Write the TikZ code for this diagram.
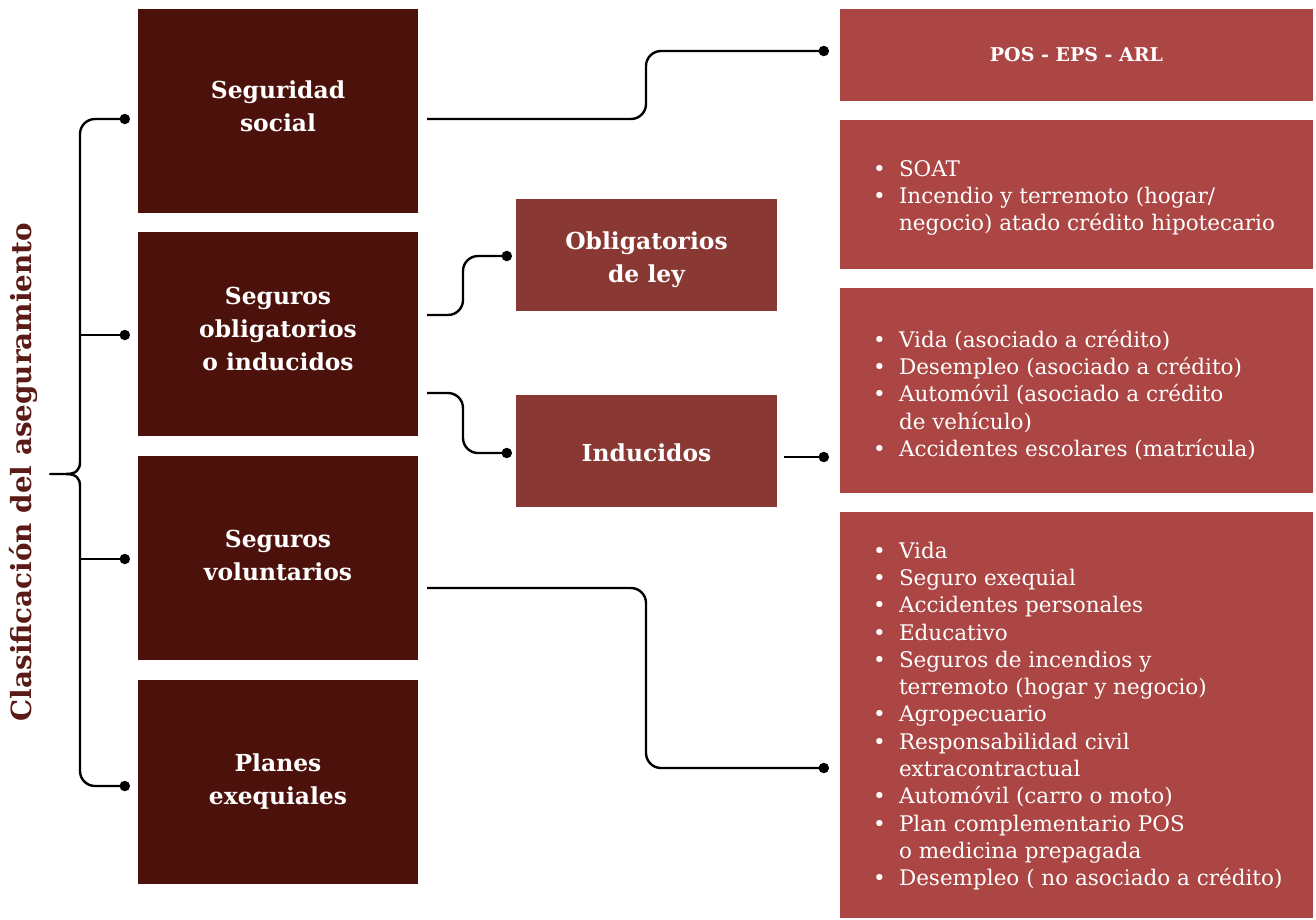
\documentclass[tikz,border=0pt]{standalone}
\usepackage{fontspec}
\setmainfont{DejaVu Serif}
\usetikzlibrary{calc}
\definecolor{lboxc}{RGB}{75,17,10}
\definecolor{mboxc}{RGB}{137,56,51}
\definecolor{rboxc}{RGB}{171,70,68}
\definecolor{labc}{RGB}{90,26,22}
\newcommand{\blt}{\makebox[26pt][l]{\textbullet}}
\newcommand{\cnt}{\hspace*{26pt}}
\newcommand{\ttl}[2][0pt]{\raisebox{#1}[\height][\depth]{\begin{tabular}{@{}c@{}}#2\end{tabular}}}
\begin{document}
\begin{tikzpicture}[x=1pt,y=-1pt,
 lbox/.style={rectangle, fill=lboxc, minimum width=280pt, minimum height=204pt, inner sep=0pt, text=white, font=\bfseries\fontsize{23.4}{32.6}\selectfont},
 mbox/.style={rectangle, fill=mboxc, minimum width=261pt, minimum height=112pt, inner sep=0pt, text=white, font=\bfseries\fontsize{23.4}{32.6}\selectfont},
 rbox/.style={rectangle, fill=rboxc, minimum width=473pt, inner sep=0pt},
 ltext/.style={anchor=west, text=white, font=\fontsize{21.5}{27.3}\selectfont, align=left, inner sep=0pt},
 conn/.style={line width=2.4pt, black, rounded corners=15pt},
 dot/.style={circle, fill=black, inner sep=0pt, minimum size=10.5pt},
]
\useasboundingbox (0,0) rectangle (1316,919);

% left label
\node[rotate=90, text=labc, font=\bfseries\fontsize{27.8}{30}\selectfont, inner sep=0pt] (lab) at (23,472) {Clasificación del aseguramiento};

% left boxes
\node[lbox] (b1) at (278,111) {\ttl[2.5pt]{Seguridad\\social}};
\node[lbox] (b2) at (278,334) {\ttl[3pt]{Seguros\\obligatorios\\o inducidos}};
\node[lbox] (b3) at (278,558) {\ttl[0.5pt]{Seguros\\voluntarios}};
\node[lbox] (b4) at (278,782) {\ttl[0.5pt]{Planes\\exequiales}};

% middle boxes
\node[mbox] (m1) at (646.5,255) {\ttl[-4.5pt]{Obligatorios\\de ley}};
\node[mbox] (m2) at (646.5,451) {\ttl[-4pt]{Inducidos}};

% right boxes
\node[rbox, minimum height=92pt, text=white, font=\bfseries\fontsize{19}{24}\selectfont] (r1) at (1076.5,55) {POS - EPS - ARL};
\node[rbox, minimum height=149pt] (r2) at (1076.5,194.5) {};
\node[rbox, minimum height=205pt] (r3) at (1076.5,390.5) {};
\node[rbox, minimum height=406pt] (r4) at (1076.5,715) {};

\node[ltext] (r2t) at ($(r2.west)+(33,3.5)$) {\blt SOAT\\ \blt Incendio y terremoto (hogar/\\ \cnt negocio) atado crédito hipotecario};
\node[ltext] (r3t) at ($(r3.west)+(33,4.5)$) {\blt Vida (asociado a crédito)\\ \blt Desempleo (asociado a crédito)\\ \blt Automóvil (asociado a crédito\\ \cnt de vehículo)\\ \blt Accidentes escolares (matrícula)};
\node[ltext] (r4t) at ($(r4.west)+(33,1)$) {\blt Vida\\ \blt Seguro exequial\\ \blt Accidentes personales\\ \blt Educativo\\ \blt Seguros de incendios y\\ \cnt terremoto (hogar y negocio)\\ \blt Agropecuario\\ \blt Responsabilidad civil\\ \cnt extracontractual\\ \blt Automóvil (carro o moto)\\ \blt Plan complementario POS\\ \cnt o medicina prepagada\\ \blt Desempleo ( no asociado a crédito)};

% brace coordinates
\coordinate (k1) at ($(b1.west)+(-13,8)$);
\coordinate (k2) at ($(b2.west)+(-13,1)$);
\coordinate (k3) at ($(b3.west)+(-13,1)$);
\coordinate (k4) at ($(b4.west)+(-13,4)$);
\coordinate (bx) at (80,474);
\coordinate (tip) at (50,474);

\draw[conn, line cap=round] (k1) -| ($(bx)+(0,-12)$);
\draw[conn, line cap=round] ($(bx)+(0,12)$) |- (k4);
\draw[line width=2.4pt, line cap=round] (tip) -- ($(bx)+(-14,0)$) .. controls ($(bx)+(-4,0)$) and ($(bx)+(0,-4)$) .. ($(bx)+(0,-12)$);
\draw[line width=2.4pt, line cap=round] ($(bx)+(-14,0)$) .. controls ($(bx)+(-4,0)$) and ($(bx)+(0,4)$) .. ($(bx)+(0,12)$);
\draw[line width=2.4pt] (k2 -| bx) -- (k2);
\draw[line width=2.4pt] (k3 -| bx) -- (k3);
\node[dot] (dk1) at (k1) {};
\node[dot] (dk2) at (k2) {};
\node[dot] (dk3) at (k3) {};
\node[dot] (dk4) at (k4) {};

% connectors
\coordinate (s1) at ($(b1.east)+(9,8)$);
\coordinate (e1) at ($(r1.west)+(-16,-4)$);
\draw[conn] (s1) -| ($(s1)!0.5!(e1) + (20.5,0)$) |- (e1);
\node[dot] (de1) at (e1) {};

\coordinate (s2) at ($(b2.east)+(9,-19)$);
\coordinate (e2) at ($(m1.west)+(-9,1)$);
\draw[conn] (s2) -| ($(s2)!0.5!(e2) + (-4,0)$) |- (e2);
\node[dot] (de2) at (e2) {};

\coordinate (s3) at ($(b2.east)+(9,59)$);
\coordinate (e3) at ($(m2.west)+(-9,2)$);
\draw[conn] (s3) -| ($(s3)!0.5!(e3) + (-4,0)$) |- (e3);
\node[dot] (de3) at (e3) {};

\coordinate (s4) at ($(m2.east)+(7,6)$);
\coordinate (e4) at ($(r3.west)+(-16,66.5)$);
\draw[conn] (s4) -- (e4);
\node[dot] (de4) at (e4) {};

\coordinate (s5) at ($(b3.east)+(9,30)$);
\coordinate (e5) at ($(r4.west)+(-16,53)$);
\draw[conn] (s5) -| ($(s5)!0.5!(e5) + (20.5,0)$) |- (e5);
\node[dot] (de5) at (e5) {};
\end{tikzpicture}
\end{document}
